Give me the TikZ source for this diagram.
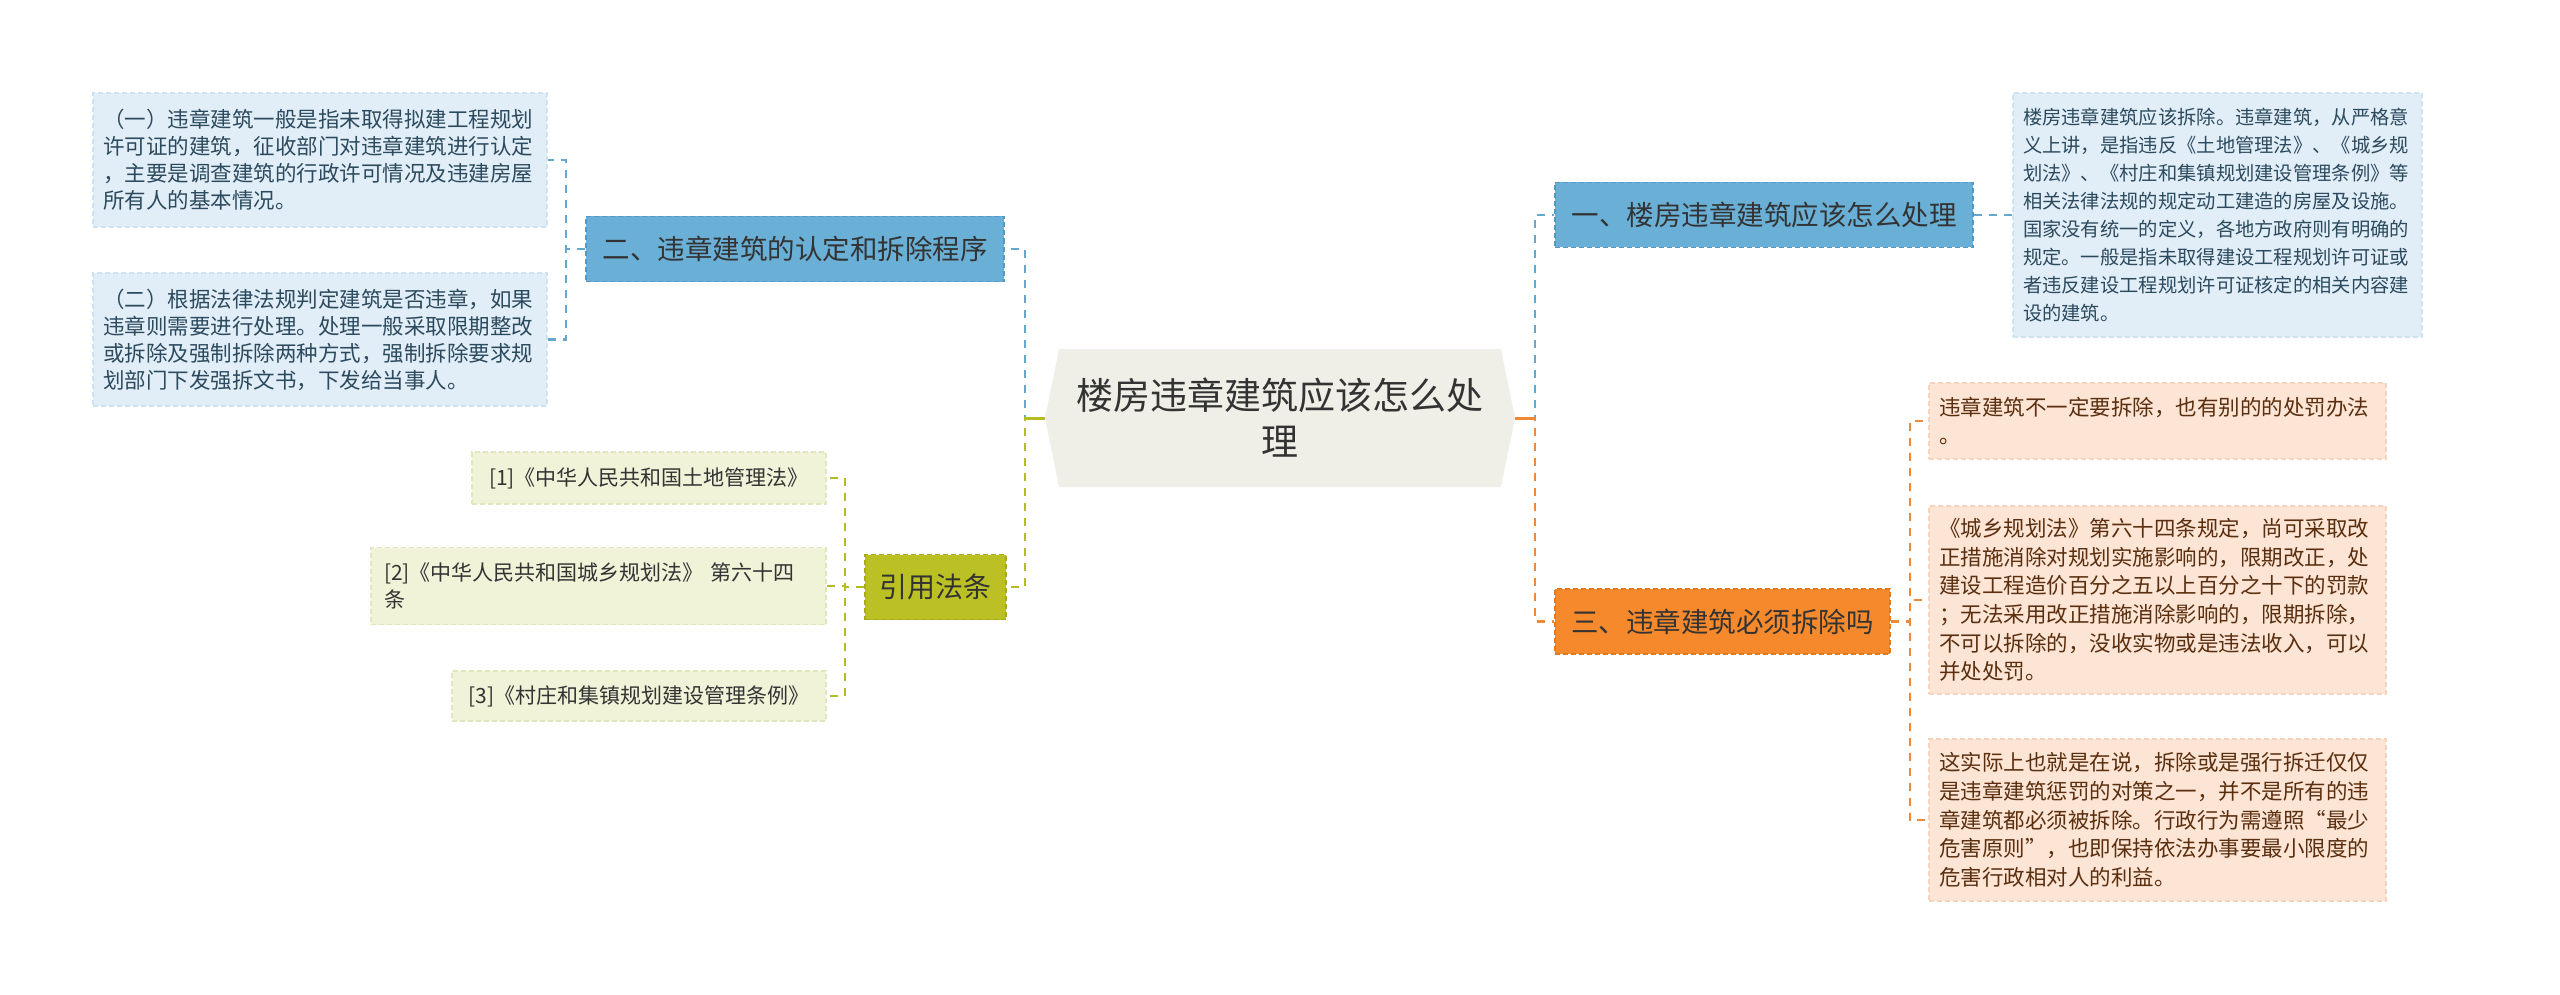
\documentclass[tikz,border=0pt]{standalone}
\usepackage{fontspec}
\setmainfont{Noto Sans CJK SC}
\usetikzlibrary{shapes.symbols}
\definecolor{blueN}{HTML}{6AAFD5}
\definecolor{blueB}{HTML}{5598C4}
\definecolor{blueL}{HTML}{E1EEF7}
\definecolor{blueLB}{HTML}{CFE2EF}
\definecolor{blueT}{HTML}{2C4A5E}
\definecolor{blueC}{HTML}{66A7D0}
\definecolor{oraN}{HTML}{F5892C}
\definecolor{oraB}{HTML}{DE7A22}
\definecolor{oraL}{HTML}{FCE5D5}
\definecolor{oraLB}{HTML}{F5D3BC}
\definecolor{oraT}{HTML}{5A2E0E}
\definecolor{oraC}{HTML}{EC8A3A}
\definecolor{oliN}{HTML}{BBC124}
\definecolor{oliB}{HTML}{A3A91A}
\definecolor{oliL}{HTML}{F0F3D8}
\definecolor{oliLB}{HTML}{E1E6BC}
\definecolor{oliC}{HTML}{B5BC22}
\definecolor{cenF}{HTML}{EFEFE7}
\definecolor{txt}{HTML}{333333}
\begin{document}
\begin{tikzpicture}[x=1pt,y=-1pt,
  conn/.style={line width=2.4pt, dash pattern=on 8pt off 7pt},
  stub/.style={line width=3pt},
  topic/.style={rectangle, inner sep=0pt, line width=1.6pt, dash pattern=on 5pt off 3pt,
    minimum height=65pt, text=txt, font=\fontsize{27.5}{33}\selectfont},
  leaf/.style={rectangle, inner sep=0pt, line width=1.2pt, dash pattern=on 5pt off 3pt, align=left},
  bluleaf/.style={leaf, fill=blueL, draw=blueLB, text=blueT},
  olileaf/.style={leaf, fill=oliL, draw=oliLB, text=txt, font=\fontsize{21}{27}\selectfont},
  oraleaf/.style={leaf, fill=oraL, draw=oraLB, text=oraT, minimum width=457pt, text width=437pt,
    font=\fontsize{21.5}{28.7}\selectfont},
]
\useasboundingbox (0,0) rectangle (2560,995);

% central
\node[signal, signal to=east and west, signal pointer angle=157, fill=cenF,
  minimum width=470pt, minimum height=138pt, inner sep=0pt,
  font=\fontsize{37}{46}\selectfont, text=txt, align=center] (c) at (1280,418)
  {楼房违章建筑应该怎么处\\理};

% main topics
\node[topic, fill=blueN, draw=blueB, minimum width=418pt] (n2) at (795,249) {二、违章建筑的认定和拆除程序};
\node[topic, fill=oliN, draw=oliB, minimum width=141pt, font=\fontsize{28}{33}\selectfont] (ref) at (935.5,587) {引用法条};
\node[topic, fill=blueN, draw=blueB, minimum width=418pt] (n1) at (1764,215) {一、楼房违章建筑应该怎么处理};
\node[topic, fill=oraN, draw=oraB, minimum width=335pt] (n3) at (1722.5,621.5) {三、违章建筑必须拆除吗};

% left blue leaves
\node[bluleaf, minimum width=454pt, minimum height=134pt, text width=434pt,
  font=\fontsize{21.5}{27}\selectfont] (c1) at (320,160)
  {（一）违章建筑一般是指未取得拟建工程规划\\许可证的建筑，征收部门对违章建筑进行认定\\，主要是调查建筑的行政许可情况及违建房屋\\所有人的基本情况。};
\node[bluleaf, minimum width=454pt, minimum height=133pt, text width=434pt,
  font=\fontsize{21.5}{27}\selectfont] (c2) at (320,339.5)
  {（二）根据法律法规判定建筑是否违章，如果\\违章则需要进行处理。处理一般采取限期整改\\或拆除及强制拆除两种方式，强制拆除要求规\\划部门下发强拆文书，下发给当事人。};

% right blue leaf
\node[bluleaf, minimum width=409pt, minimum height=244pt, text width=389pt,
  font=\fontsize{19.3}{28.1}\selectfont] (b1) at (2217.5,215)
  {楼房违章建筑应该拆除。违章建筑，从严格意\\义上讲，是指违反《土地管理法》、《城乡规\\划法》、《村庄和集镇规划建设管理条例》等\\相关法律法规的规定动工建造的房屋及设施。\\国家没有统一的定义，各地方政府则有明确的\\规定。一般是指未取得建设工程规划许可证或\\者违反建设工程规划许可证核定的相关内容建\\设的建筑。};

% olive leaves
\node[olileaf, minimum width=354pt, minimum height=52pt] (r1) at (649,478)
  {[1]《中华人民共和国土地管理法》};
\node[olileaf, minimum width=455pt, minimum height=77pt, text width=429pt] (r2) at (598.5,586)
  {[2]《中华人民共和国城乡规划法》 第六十四\\条};
\node[olileaf, minimum width=374pt, minimum height=50pt] (r3) at (639,696)
  {[3]《村庄和集镇规划建设管理条例》};

% orange leaves
\node[oraleaf, minimum height=76pt] (o1) at (2157.5,421)
  {违章建筑不一定要拆除，也有别的的处罚办法\\。};
\node[oraleaf, minimum height=188pt] (o2) at (2157.5,600)
  {《城乡规划法》第六十四条规定，尚可采取改\\正措施消除对规划实施影响的，限期改正，处\\建设工程造价百分之五以上百分之十下的罚款\\；无法采用改正措施消除影响的，限期拆除，\\不可以拆除的，没收实物或是违法收入，可以\\并处处罚。};
\node[oraleaf, minimum height=162pt] (o3) at (2157.5,820)
  {这实际上也就是在说，拆除或是强行拆迁仅仅\\是违章建筑惩罚的对策之一，并不是所有的违\\章建筑都必须被拆除。行政行为需遵照“最少\\危害原则”，也即保持依法办事要最小限度的\\危害行政相对人的利益。};

% connectors from central
\draw[conn, blueC] (c.west) -- ++(-20,0) |- (n2.east);
\draw[conn, oliC] (c.west) -- ++(-20,0) |- (ref.east);
\draw[stub, oliC] (c.west) -- ++(-20,0);
\draw[conn, blueC] (c.east) -- ++(20,0) |- (n1.west);
\draw[conn, oraC] (c.east) -- ++(20,0) |- (n3.west);
\draw[stub, oraC] (c.east) -- ++(20,0);

% branch connectors
\draw[conn, blueC] (n2.west) -- ++(-19,0) |- (c1.east);
\draw[conn, blueC] (n2.west) -- ++(-19,0) |- (c2.east);
\draw[conn, oliC] (ref.west) -- ++(-19,0) |- (r1.east);
\draw[conn, oliC] (ref.west) -- ++(-19,0) |- (r2.east);
\draw[conn, oliC] (ref.west) -- ++(-19,0) |- (r3.east);
\draw[conn, blueC] (n1.east) -- (b1.west);
\draw[conn, oraC] (n3.east) -- ++(19,0) |- (o1.west);
\draw[conn, oraC] (n3.east) -- ++(19,0) |- (o2.west);
\draw[conn, oraC] (n3.east) -- ++(19,0) |- (o3.west);
\end{tikzpicture}
\end{document}
